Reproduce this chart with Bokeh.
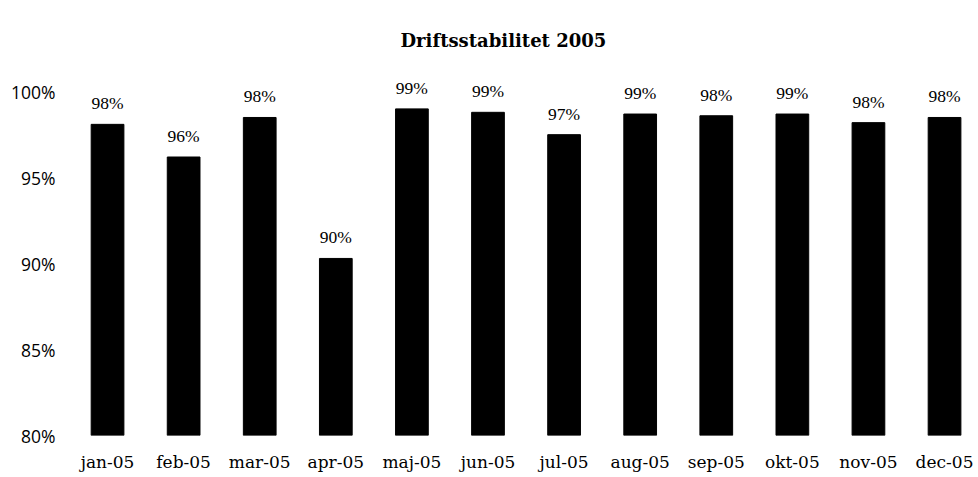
from bokeh.plotting import figure
from bokeh.models import Range1d, FixedTicker, PrintfTickFormatter, ColumnDataSource, LabelSet
from bokeh.embed import file_html
from bokeh.resources import INLINE

months = ["jan-05", "feb-05", "mar-05", "apr-05", "maj-05", "jun-05",
          "jul-05", "aug-05", "sep-05", "okt-05", "nov-05", "dec-05"]
values = [98.1, 96.2, 98.5, 90.3, 99.0, 98.8, 97.5, 98.7, 98.6, 98.7, 98.2, 98.5]
labels = ["98%", "96%", "98%", "90%", "99%", "99%", "97%", "99%", "98%", "99%", "98%", "98%"]
y_ticks = [80, 85, 90, 95, 100]

xs = list(range(len(months)))
src = ColumnDataSource(dict(x=xs, top=values, label=labels))

p = figure(width=978, height=477, output_backend="svg", toolbar_location=None,
           x_range=Range1d(-0.5, 11.42), y_range=Range1d(80, 101.0),
           min_border_left=69, min_border_right=2, min_border_top=74, min_border_bottom=42,
           title="Driftsstabilitet 2005")
p.title.text_font = "DejaVu Serif"
p.title.text_font_style = "bold"
p.title.text_font_size = "18px"
p.title.text_color = "black"
p.title.align = "left"
p.title.offset = 331
p.title.standoff = 47

p.vbar(x="x", top="top", bottom=80, width=0.43, source=src,
       fill_color="black", line_color="black")

labs = LabelSet(x="x", y="top", text="label", source=src, text_align="center",
                text_baseline="alphabetic", y_offset=15,
                text_font="Open Sans", text_font_size="17.5px", text_color="black")
p.add_layout(labs)

p.xgrid.visible = False
p.ygrid.visible = False
p.outline_line_color = None

p.xaxis.ticker = FixedTicker(ticks=xs)
p.xaxis.major_label_overrides = {i: m for i, m in zip(xs, months)}
p.xaxis.axis_line_color = None
p.xaxis.major_tick_line_color = None
p.xaxis.minor_tick_line_color = None
p.xaxis.major_tick_out = 0
p.xaxis.major_label_standoff = 16
p.xaxis.major_label_text_font = "DejaVu Serif"
p.xaxis.major_label_text_font_size = "17px"
p.xaxis.major_label_text_color = "black"

p.yaxis.ticker = FixedTicker(ticks=y_ticks)
p.yaxis.formatter = PrintfTickFormatter(format="%d%%")
p.yaxis.axis_line_color = None
p.yaxis.major_tick_line_color = None
p.yaxis.minor_tick_line_color = None
p.yaxis.major_tick_out = 0
p.yaxis.major_label_standoff = 14
p.yaxis.major_label_text_font = "Open Sans"
p.yaxis.major_label_text_font_size = "17.5px"
p.yaxis.major_label_text_color = "black"

open("out.html", "w").write(file_html(p, INLINE))
